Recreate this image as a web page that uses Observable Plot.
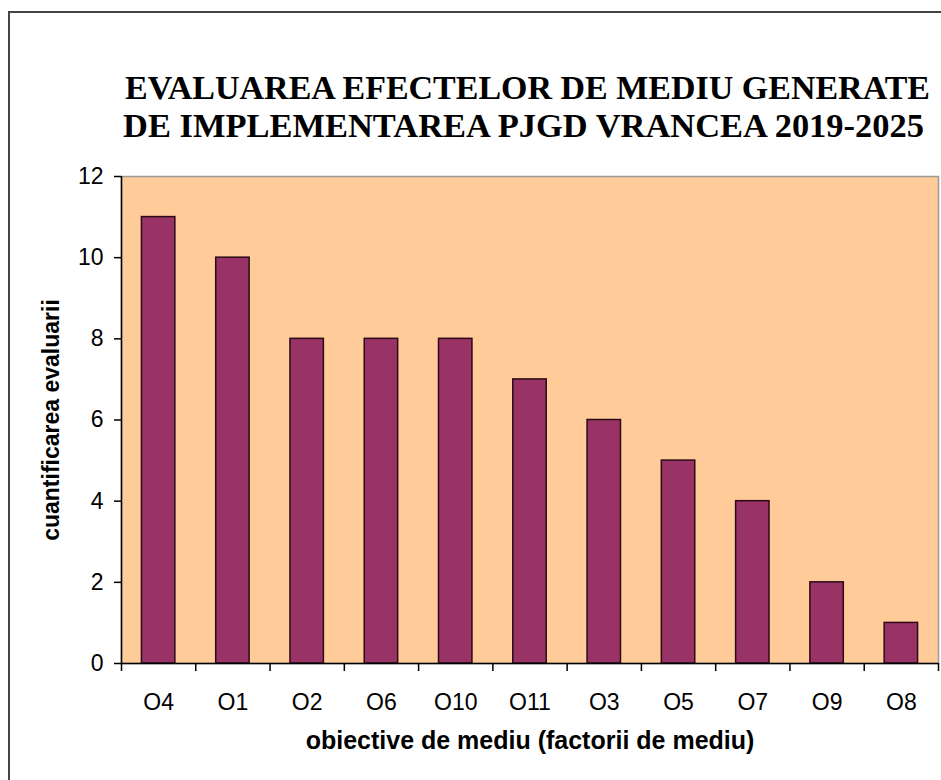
<!DOCTYPE html>
<html>
<head>
<meta charset="utf-8">
<script src="https://cdn.jsdelivr.net/npm/d3@7"></script>
<script src="https://cdn.jsdelivr.net/npm/@observablehq/plot@0.6"></script>
<style>
  html, body { margin: 0; padding: 0; background: #fff; }
  body { width: 941px; height: 780px; overflow: hidden; position: relative; font-family: Arial, "Liberation Sans", sans-serif; }
  #outer { position: absolute; left: 8px; top: 11px; width: 1200px; height: 1200px; border-left: 2px solid #444; border-top: 2px solid #444; box-sizing: border-box; pointer-events: none; }
  #title { position: relative; height: 150px; }
  .tline { position: absolute; white-space: nowrap; font-family: "Liberation Serif", "Times New Roman", serif; font-weight: bold; font-size: 33px; line-height: 38px; color: #000; transform-origin: left top; }
  #chart { position: relative; }
</style>
</head>
<body>
<div id="outer"></div>
<div id="title"></div>
<div id="chart"></div>
<script>
const categories = ["O4", "O1", "O2", "O6", "O10", "O11", "O3", "O5", "O7", "O9", "O8"];
const values = [11, 10, 8, 8, 8, 7, 6, 5, 4, 2, 1];
const yTicks = [0, 2, 4, 6, 8, 10, 12];
const titleLines = ["EVALUAREA EFECTELOR DE MEDIU GENERATE", "DE IMPLEMENTAREA PJGD VRANCEA 2019-2025"];
const xLabel = "obiective de mediu (factorii de mediu)";
const yLabel = "cuantificarea evaluarii";

// title layout (left edge, top, target width)
const titleLayout = [
  {left: 125, top: 69, width: 805},
  {left: 123, top: 107, width: 801}
];
const titleEl = document.getElementById("title");
titleLines.forEach((t, k) => {
  const d = document.createElement("div");
  d.className = "tline";
  d.textContent = t;
  d.style.left = titleLayout[k].left + "px";
  d.style.top = titleLayout[k].top + "px";
  titleEl.appendChild(d);
  const w = d.getBoundingClientRect().width;
  d.style.transform = `scaleX(${titleLayout[k].width / w})`;
});

const data = categories.map((c, i) => ({cat: c, idx: i, val: values[i]}));

const chart = Plot.plot({
  width: 941,
  height: 630,
  marginTop: 26,
  marginRight: 3,
  marginBottom: 117,
  marginLeft: 121,
  style: {background: "transparent", fontFamily: "Arial, 'Liberation Sans', sans-serif", fontSize: "23px", color: "#000", overflow: "visible"},
  x: {type: "linear", domain: [0, categories.length], axis: null},
  y: {domain: [0, 12], axis: null},
  marks: [
    Plot.frame({fill: "#FFCC99", stroke: "#9a9a9a", strokeWidth: 1.5}),
    Plot.rectY(data, {x1: d => d.idx + 0.275, x2: d => d.idx + 0.725, y: "val", fill: "#993366", stroke: "#2b0b17", strokeWidth: 1.5}),
    Plot.ruleY([0], {stroke: "#000", strokeWidth: 1.5}),
    Plot.ruleX([0], {stroke: "#000", strokeWidth: 1.5}),
    Plot.axisY({ticks: yTicks, tickSize: 7, tickPadding: 11, tickFormat: d => String(d), label: null, strokeWidth: 1.5}),
    Plot.axisX({ticks: d3.range(0, categories.length + 1), tickSize: 8, tickFormat: () => "", label: null, strokeWidth: 1.5}),
    Plot.axisX({ticks: categories.map((c, i) => i + 0.5), tickSize: 0, tickPadding: 30, tickFormat: d => categories[Math.floor(d)], label: null}),
    Plot.text([xLabel], {frameAnchor: "bottom", textAnchor: "middle", lineAnchor: "middle", dy: 77, fontWeight: "bold", fontSize: 25, fill: "#000"}),
    Plot.text([yLabel], {frameAnchor: "left", textAnchor: "middle", lineAnchor: "middle", rotate: -90, dx: -70, fontWeight: "bold", fontSize: 23, fill: "#000"})
  ]
});
document.getElementById("chart").appendChild(chart);
</script>
</body>
</html>
